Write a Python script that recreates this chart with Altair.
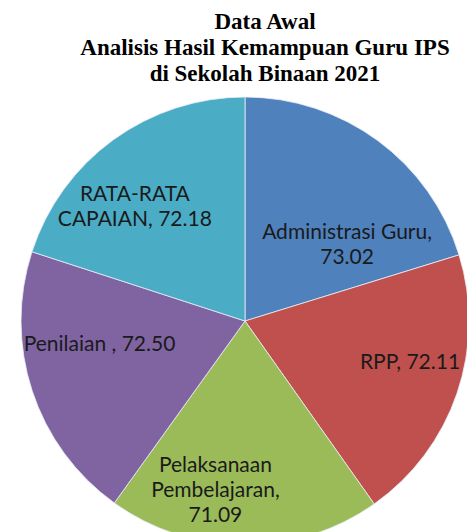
import altair as alt
import pandas as pd

categories = ["Administrasi Guru", "RPP", "Pelaksanaan Pembelajaran", "Penilaian ", "RATA-RATA CAPAIAN"]
values = [73.02, 72.11, 71.09, 72.50, 72.18]
label_lines = [
    ["Administrasi Guru,", "73.02"],
    ["RPP, 72.11"],
    ["Pelaksanaan", "Pembelajaran,", "71.09"],
    ["Penilaian , 72.50"],
    ["RATA-RATA", "CAPAIAN, 72.18"],
]
colors = ["#4F81BD", "#C0504D", "#9BBB59", "#8064A2", "#4BACC6"]
title_lines = ["Data Awal", "Analisis Hasil Kemampuan Guru IPS", "di Sekolah Binaan 2021"]

df = pd.DataFrame({
    "idx": list(range(len(categories))),
    "category": categories,
    "value": values,
    "label": ["\n".join(l) for l in label_lines],
})

R = 224
base = alt.Chart(df)

arcs = base.mark_arc(radius=R, stroke="#e8eef5", strokeWidth=0.8).encode(
    theta=alt.Theta("value:Q", stack=True),
    color=alt.Color("category:N", scale=alt.Scale(domain=categories, range=colors), legend=None),
    order=alt.Order("idx:Q"),
)

# label placement tweaks (style only): radius and pixel offsets from slice mid-angle
label_style = [
    dict(radius=150, dx=13, dy=33),
    dict(radius=150, dx=23, dy=-6),
    dict(radius=150, dx=-29, dy=-5),
    dict(radius=150, dx=-3, dy=-23),
    dict(radius=150, dx=-22, dy=-5),
]

text_layers = []
for i, st in enumerate(label_style):
    t = (
        base.transform_window(cum="sum(value)", sort=[alt.SortField("idx")], frame=[None, 0])
        .transform_calculate(mid="datum.cum - datum.value / 2")
        .transform_filter(alt.datum.idx == i)
        .mark_text(
            radius=st["radius"], dx=st["dx"], dy=st["dy"],
            font="Lato", fontSize=21, color="#1a1a1a",
            lineBreak="\n", lineHeight=25, align="center", baseline="middle",
        )
        .encode(theta=alt.Theta("mid:Q", stack=None), text="label:N")
    )
    text_layers.append(t)

chart = alt.layer(arcs, *text_layers).properties(
    width=444,
    height=406,
    autosize=alt.AutoSizeParams(type="none"),
    padding={"left": 15, "top": 110, "right": 0, "bottom": 8},
    title=alt.TitleParams(
        text=title_lines,
        font="Liberation Serif",
        fontSize=23,
        fontWeight="bold",
        lineHeight=26,
        anchor="middle",
        dx=20,
        offset=9,
        color="black",
    ),
).configure_view(stroke=None)

chart.save("out.html", embed_options={"renderer": "svg", "actions": False})
